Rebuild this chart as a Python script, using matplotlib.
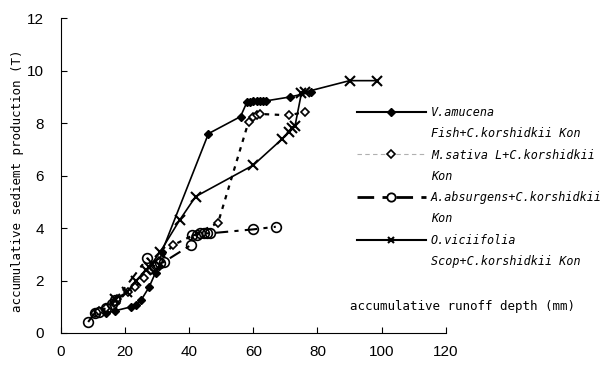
import matplotlib.pyplot as plt
from matplotlib.lines import Line2D

# data
va_x = [14, 17, 22, 23.5, 25, 27.5, 29.5, 30.5, 31.5, 46, 56, 58, 59, 60, 61, 62, 63, 64, 71.5, 78]
va_y = [0.75, 0.85, 1.0, 1.05, 1.25, 1.75, 2.3, 2.55, 3.1, 7.6, 8.25, 8.8, 8.82, 8.85, 8.85, 8.85, 8.85, 8.85, 9.0, 9.18]

ms_x = [10.5, 12, 14, 16.5, 17.5, 21, 23, 26, 28, 29.5, 30.5, 35, 49, 58.5, 60, 61, 62, 71, 76]
ms_y = [0.75, 0.85, 0.95, 1.15, 1.3, 1.55, 1.75, 2.1, 2.4, 2.6, 2.75, 3.35, 4.2, 8.05, 8.25, 8.3, 8.35, 8.3, 8.42]

aa_x = [8.5, 10.5, 12, 14, 16, 17, 27, 29, 31, 32, 40.5, 41, 42.5, 43.5, 44.5, 45.5, 46.5, 60, 67]
aa_y = [0.42, 0.75, 0.8, 0.95, 1.1, 1.25, 2.85, 2.55, 2.65, 2.7, 3.35, 3.72, 3.75, 3.8, 3.82, 3.8, 3.8, 3.95, 4.05]

ov_x = [17, 20.5, 23.5, 26.5, 27.5, 31, 37, 42, 60, 69, 71, 72, 73, 75, 76, 90, 98.5]
ov_y = [1.3, 1.55, 2.0, 2.4, 2.5, 3.1, 4.3, 5.2, 6.4, 7.4, 7.65, 7.8, 7.9, 9.15, 9.18, 9.62, 9.62]

labels = ['V.amucena', 'Fish+C.korshidkii Kon',
          'M.sativa L+C.korshidkii', 'Kon',
          'A.absurgens+C.korshidkii', 'Kon',
          'O.viciifolia', 'Scop+C.korshidkii Kon']

xticks = [0, 20, 40, 60, 80, 100, 120]
yticks = [0, 2, 4, 6, 8, 10, 12]

mono = 'DejaVu Sans Mono'

fig = plt.figure(figsize=(6.09, 3.69), dpi=100)
ax = fig.add_axes([0.1, 0.0976, 0.632, 0.853])

ax.plot(va_x, va_y, color='black', lw=1.2, marker='D', ms=4, mfc='black', mec='black')
ax.plot(ms_x, ms_y, color='black', lw=1.6, ls=(0, (2, 2.5)), marker='D', ms=4.5, mfc='white',
        mec='black', mew=1.2)
ax.plot(aa_x, aa_y, color='black', lw=1.5, ls=(0, (6, 3, 2, 3)), marker='o', ms=7, mfc='none',
        mec='black', mew=1.2)
ax.plot(ov_x, ov_y, color='black', lw=1.2, marker='x', ms=7, mew=1.5)

blank = Line2D([], [], color='none')
handles = [
    Line2D([], [], color='black', lw=1.5, marker='D', ms=4, mfc='black'), blank,
    Line2D([], [], color='#b0b0b0', lw=0.8, ls=(0, (4, 3)), marker='D', ms=4, mfc='white',
           mec='black', mew=1.2), blank,
    Line2D([], [], color='black', lw=2, ls=(0, (6, 3, 2, 3)), marker='o', ms=6, mfc='white',
           mec='black', mew=1.3), blank,
    Line2D([], [], color='black', lw=1.5, marker='x', ms=5, mew=1.5), blank,
]
leg = fig.legend(handles, labels, loc='upper left', bbox_to_anchor=(0.572, 0.735),
                 frameon=False, handlelength=5.9, handletextpad=0.4, labelspacing=0.7,
                 borderpad=0.2, prop={'family': mono, 'style': 'italic', 'size': 8.5})

ax.set_xlim(0, 120)
ax.set_ylim(0, 12)
ax.set_xticks(xticks)
ax.set_yticks(yticks)
ax.tick_params(direction='in', length=4, width=0.8, labelsize=11)
ax.tick_params(axis='x', pad=9)
ax.tick_params(axis='y', pad=12)
for lab in ax.get_xticklabels() + ax.get_yticklabels():
    lab.set_family('Liberation Sans')
ax.spines['top'].set_visible(False)
ax.spines['right'].set_visible(False)

ax.set_ylabel('accumulative sediemt production (T)', family=mono, fontsize=9)
ax.yaxis.set_label_coords(-0.096, 0.483)
ax.text(0.75, 0.083, 'accumulative runoff depth (mm)', transform=ax.transAxes,
        family=mono, fontsize=9, va='center', ha='left')

fig.savefig('out.png', dpi=100)
